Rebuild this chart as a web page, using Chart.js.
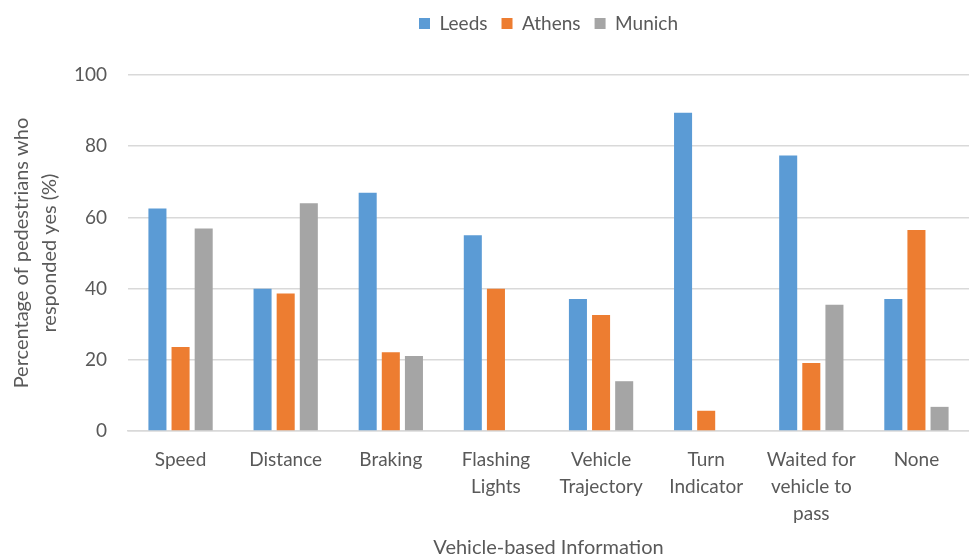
<!DOCTYPE html>
<html>
<head>
<meta charset="utf-8">
<script src="https://cdn.jsdelivr.net/npm/chart.js@4/dist/chart.umd.min.js"></script>
<style>
    html, body { margin: 0; padding: 0; background: #fff; }
    #wrap { width: 969px; height: 559px; }
</style>
</head>
<body>
<div id="wrap"><canvas id="chart"></canvas></div>
<script>
// Data
const categories = [
    'Speed', 'Distance', 'Braking', ['Flashing', 'Lights'], ['Vehicle', 'Trajectory'],
    ['Turn', 'Indicator'], ['Waited for', 'vehicle to', 'pass'], 'None'
];
const leeds  = [62.5, 40.0, 66.9, 55.0, 37.1, 89.4, 77.4, 37.1];
const athens = [23.6, 38.6, 22.1, 40.0, 32.6, 5.7, 19.1, 56.5];
const munich = [56.9, 64.0, 21.1, 0, 14.0, 0, 35.5, 6.8];
const yTicks = [0, 20, 40, 60, 80, 100];

const textColor = '#595959';
const gridColor = '#d9d9d9';
const font = 'Lato, "Open Sans", sans-serif';

// extra room under the legend, like the original
const legendGap = {
    id: 'legendGap',
    beforeInit(chart) {
        const fit = chart.legend.fit;
        chart.legend.fit = function () {
            fit.bind(chart.legend)();
            this.height += 32;
        };
    }
};

new Chart(document.getElementById('chart').getContext('2d'), {
    type: 'bar',
    data: {
        labels: categories,
        datasets: [
            { label: 'Leeds', data: leeds, backgroundColor: '#5b9bd5' },
            { label: 'Athens', data: athens, backgroundColor: '#ed7d31' },
            { label: 'Munich', data: munich, backgroundColor: '#a5a5a5' }
        ]
    },
    plugins: [legendGap],
    options: {
        responsive: true,
        maintainAspectRatio: false,
        animation: false,
        datasets: { bar: { categoryPercentage: 0.66, barPercentage: 0.78 } },
        layout: { padding: { left: 8, right: 0, top: 0, bottom: 0 } },
        plugins: {
            legend: {
                position: 'top',
                fullSize: false,
                labels: {
                    color: textColor,
                    font: { family: font, size: 19 },
                    boxWidth: 11,
                    boxHeight: 11,
                    padding: 14
                }
            },
            tooltip: { enabled: false }
        },
        scales: {
            x: {
                grid: { display: false },
                border: { color: gridColor, width: 1.5 },
                ticks: {
                    color: textColor,
                    font: { family: font, size: 19, lineHeight: 1.42 },
                    padding: 7,
                    maxRotation: 0,
                    autoSkip: false
                },
                title: {
                    display: true,
                    text: 'Vehicle-based Information',
                    color: textColor,
                    font: { family: font, size: 20, lineHeight: 1.1 },
                    padding: { top: 3, bottom: 0 }
                }
            },
            y: {
                min: 0,
                max: 100,
                afterBuildTicks: axis => { axis.ticks = yTicks.map(v => ({ value: v })); },
                afterFit: axis => { axis.width = 120; },
                grid: { color: gridColor, lineWidth: 1.5, drawTicks: false },
                border: { display: false },
                ticks: {
                    color: textColor,
                    font: { family: font, size: 19 },
                    padding: 21
                },
                title: {
                    display: true,
                    text: ['Percentage of pedestrians who', 'responded yes (%)'],
                    color: textColor,
                    font: { family: font, size: 20, lineHeight: 1.4 },
                    padding: { top: 0, bottom: 0 }
                }
            }
        }
    }
});
</script>
</body>
</html>
